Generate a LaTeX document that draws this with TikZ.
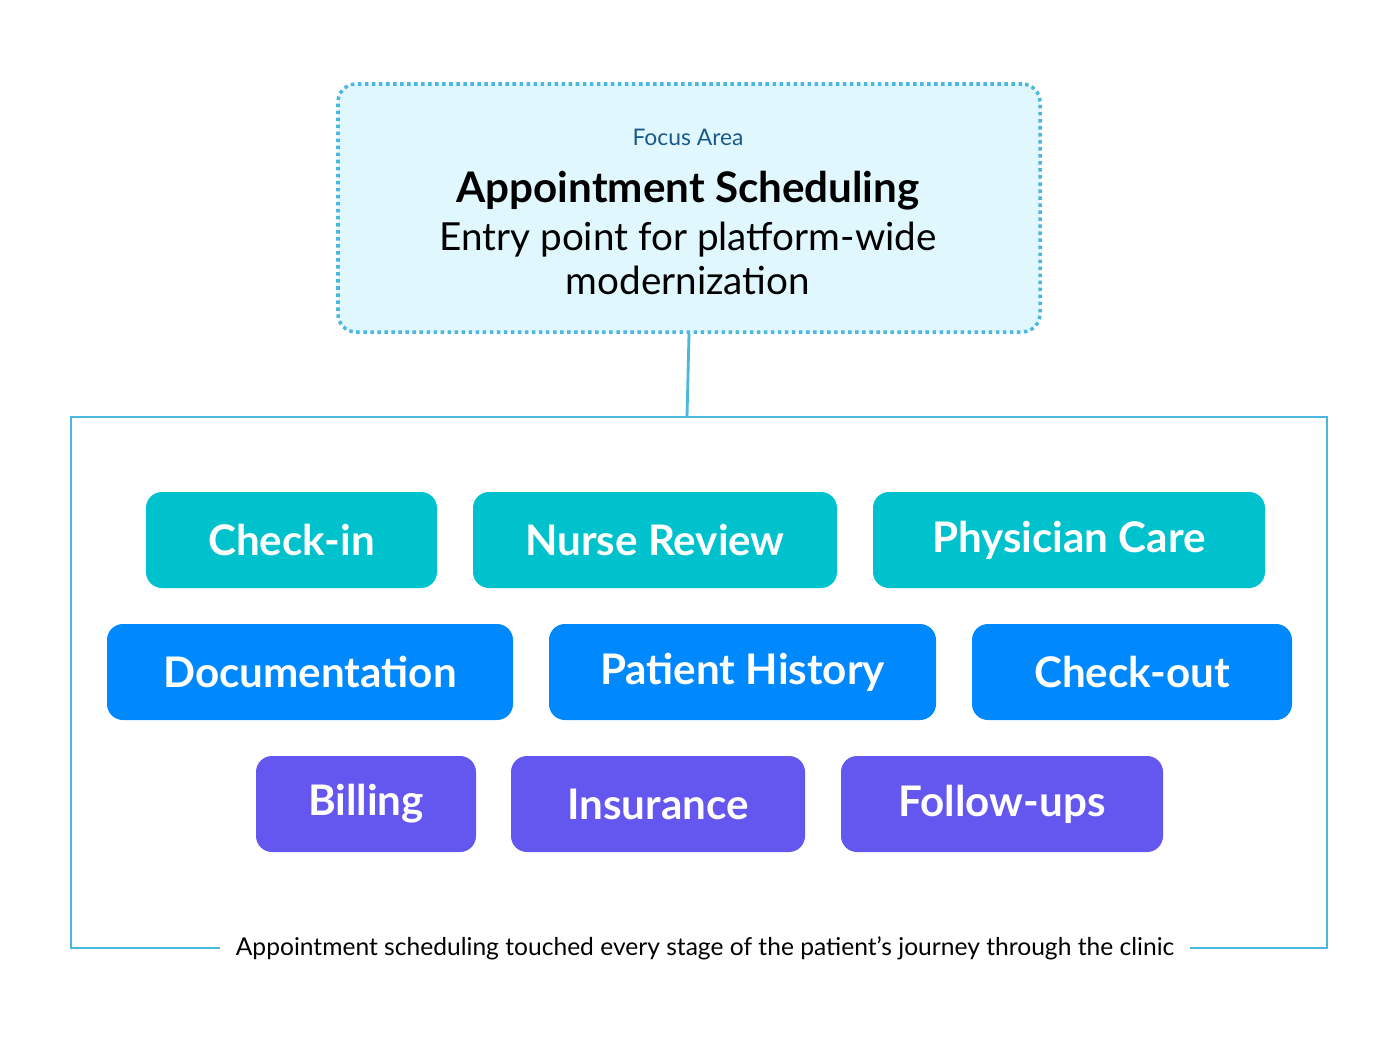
\documentclass[tikz,border=0pt]{standalone}
\usepackage{fontspec}
\setmainfont{Lato}
\usetikzlibrary{calc}
\definecolor{linecol}{HTML}{4AB8DE}
\definecolor{focusfill}{HTML}{E0F7FD}
\definecolor{focustxt}{HTML}{1A5A8A}
\definecolor{tealc}{HTML}{00C2CC}
\definecolor{bluec}{HTML}{0088FF}
\definecolor{purplec}{HTML}{6457F0}
\tikzset{
  pill/.style={rounded corners=0.32cm, text=white, font=\fontsize{24}{28}\selectfont\bfseries,
    minimum height=96*0.02cm, inner sep=0pt},
  link/.style={draw=linecol, line width=1.6pt}
}
\begin{document}
\begin{tikzpicture}[x=0.02cm, y=-0.02cm]
            \useasboundingbox (0,0) rectangle (1400,1052);

            % focus area
            \node[draw=linecol, fill=focusfill, dotted, line width=2pt, rounded corners=0.36cm,
                  minimum width=702*0.02cm, minimum height=248*0.02cm] (focus) at (689,208) {};
            \node[text=focustxt, font=\fontsize{13}{15}\selectfont] (label) at (688,137) {Focus Area};
            \node[font=\fontsize{24}{28}\selectfont\bfseries] (title) at (688,191) {Appointment Scheduling};
            \node[font=\fontsize{22}{25}\selectfont, align=center] (sub) at (688,258) {Entry point for platform-wide\\modernization};

            % frame
            \node[font=\fontsize{14}{16}\selectfont] (caption) at (705,948) {Appointment scheduling touched every stage of the patient’s journey through the clinic};
            \coordinate (top) at (687,417);
            \draw[link] (focus.south) -- (top);
            \draw[link] ($(caption.west)+(-10,0)$) -- (71,948) -- (71,417) -- (1327,417) -- (1327,948) -- ($(caption.east)+(10,0)$);

            % row 1
            \node[pill, fill=tealc, minimum width=291*0.02cm] (checkin) at (291.5,540) {Check-in};
            \node[pill, fill=tealc, minimum width=364*0.02cm] (nurse) at (655,540) {Nurse Review};
            \node[pill, fill=tealc, minimum width=392*0.02cm] (physician) at (1069,540) {Physician Care};

            % row 2
            \node[pill, fill=bluec, minimum width=406*0.02cm] (docs) at (310,672) {Documentation};
            \node[pill, fill=bluec, minimum width=387*0.02cm] (history) at (742.5,672) {Patient History};
            \node[pill, fill=bluec, minimum width=320*0.02cm] (checkout) at (1132,672) {Check-out};

            % row 3
            \node[pill, fill=purplec, minimum width=220*0.02cm] (billing) at (366,804) {Billing};
            \node[pill, fill=purplec, minimum width=294*0.02cm] (insurance) at (658,804) {Insurance};
            \node[pill, fill=purplec, minimum width=322*0.02cm] (followups) at (1002,804) {Follow-ups};
\end{tikzpicture}
\end{document}
